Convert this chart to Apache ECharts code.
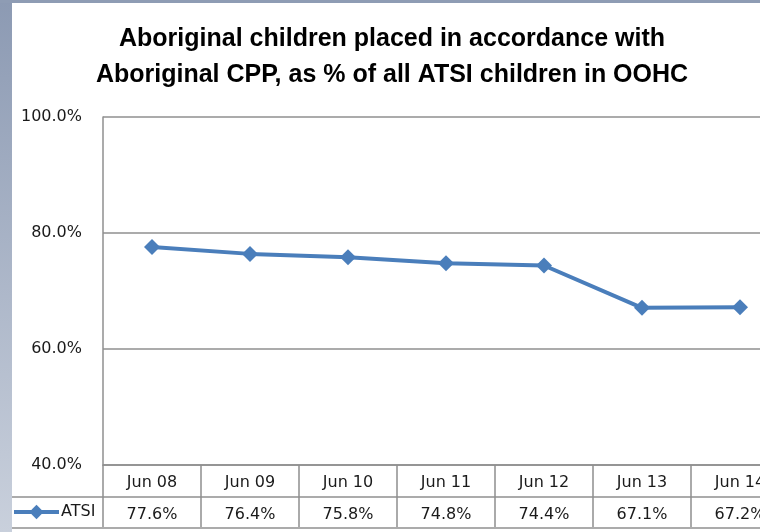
<!DOCTYPE html>
<html lang="en">
<head>
    <meta charset="UTF-8">
    <title>Aboriginal CPP placements</title>
    <script src="https://cdn.jsdelivr.net/npm/echarts@6/dist/echarts.min.js"></script>
    <style>
        html, body { margin: 0; padding: 0; background: #fff; }
        #chart { width: 760px; height: 532px; }
    </style>
</head>
<body>
    <div id="chart"></div>

    <script>
        // data
        const categories = ['Jun 08', 'Jun 09', 'Jun 10', 'Jun 11', 'Jun 12', 'Jun 13', 'Jun 14'];
        const atsiValues = [77.6, 76.4, 75.8, 74.8, 74.4, 67.1, 67.2];
        const seriesName = 'ATSI';
        const yTicks = { min: 40, max: 100, interval: 20 };

        const gridColor = '#8f8f8f';
        const textColor = '#1a1a1a';
        const font = 'DejaVu Sans';

        const chart = echarts.init(document.getElementById('chart'));

        const option = {
            animation: false,
            title: {
                text: 'Aboriginal children placed in accordance with\nAboriginal CPP, as % of all ATSI children in OOHC',
                left: 392,
                textAlign: 'center',
                top: 21,
                padding: 0,
                textStyle: {
                    fontFamily: 'Liberation Sans',
                    fontWeight: 'bold',
                    fontSize: 25,
                    lineHeight: 36,
                    color: '#000'
                }
            },
            legend: {
                left: 12,
                top: 504,
                itemWidth: 45,
                itemHeight: 18,
                itemGap: 0,
                padding: 0,
                lineStyle: { width: 4 },
                textStyle: { fontFamily: font, fontSize: 16, color: textColor, padding: [0, 0, 0, -3] },
                data: [seriesName]
            },
            // the last column runs past the right edge of the picture
            grid: {
                left: 103,
                top: 117,
                width: 686,
                height: 348,
                outerBoundsMode: 'none'
            },
            xAxis: [{
                type: 'category',
                data: categories,
                boundaryGap: true,
                axisLine: { lineStyle: { color: gridColor, width: 1.5 } },
                axisTick: {
                    show: true,
                    alignWithLabel: false,
                    length: 62,
                    lineStyle: { color: gridColor, width: 1.5 }
                },
                axisLabel: { fontFamily: font, fontSize: 16, color: textColor, margin: 9, lineHeight: 18 }
            }, {
                type: 'category',
                data: categories,
                position: 'bottom',
                offset: 32,
                boundaryGap: true,
                axisLine: { show: false },
                axisTick: { show: false },
                axisLabel: {
                    fontFamily: font,
                    fontSize: 16,
                    color: textColor,
                    margin: 9,
                    lineHeight: 18,
                    formatter: (v, i) => atsiValues[i].toFixed(1) + '%'
                }
            }],
            yAxis: {
                type: 'value',
                min: yTicks.min,
                max: yTicks.max,
                interval: yTicks.interval,
                axisLine: { show: true, lineStyle: { color: gridColor, width: 1.5 } },
                axisTick: { show: false },
                splitLine: { lineStyle: { color: gridColor, width: 1.5 } },
                axisLabel: {
                    fontFamily: font,
                    fontSize: 16,
                    color: textColor,
                    margin: 21,
                    formatter: v => v.toFixed(1) + '%'
                }
            },
            graphic: [
                // side and top frame strips of the original slide
                {
                    type: 'rect', left: 0, top: 0, z: -10,
                    shape: { width: 12, height: 532 },
                    style: {
                        fill: new echarts.graphic.LinearGradient(0, 0, 0, 1, [
                            { offset: 0, color: '#8c9ab3' },
                            { offset: 1, color: '#c9d0dc' }
                        ])
                    }
                },
                {
                    type: 'rect', left: 0, top: 0, z: -10,
                    shape: { width: 760, height: 3 },
                    style: { fill: '#8e9cb4' }
                },
                // data table row rules
                {
                    type: 'line', z: -5,
                    shape: { x1: 12, y1: 497, x2: 760, y2: 497 },
                    style: { stroke: gridColor, lineWidth: 1.5 }
                },
                {
                    type: 'line', z: -5,
                    shape: { x1: 12, y1: 528, x2: 760, y2: 528 },
                    style: { stroke: gridColor, lineWidth: 1.5 }
                }
            ],
            series: [{
                name: seriesName,
                type: 'line',
                xAxisIndex: 0,
                data: atsiValues,
                symbol: 'diamond',
                symbolSize: 16,
                color: '#4a7ebb',
                lineStyle: { width: 4, color: '#4a7ebb' },
                itemStyle: { color: '#4a7ebb' }
            }]
        };

        chart.setOption(option);
    </script>
</body>
</html>
